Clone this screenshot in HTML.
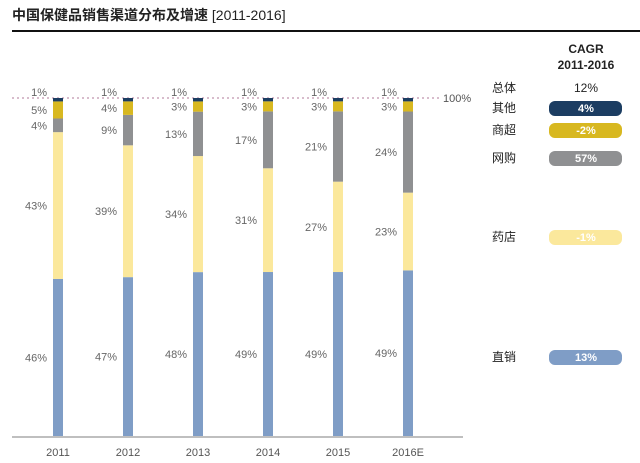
<!DOCTYPE html>
<html><head><meta charset="utf-8"><style>
body{margin:0;background:#fff;}
svg{display:block;font-family:"Liberation Sans","Noto Sans CJK SC",sans-serif;}
</style></head><body>
<svg id="chart" width="640" height="463" viewBox="0 0 640 463">
<text x="12" y="20" font-size="14" font-weight="bold" fill="#222">中国保健品销售渠道分布及增速 <tspan font-weight="normal">[2011-2016]</tspan></text>
<rect x="12" y="30" width="628" height="2" fill="#111"/>
<line x1="12" y1="98" x2="440" y2="98" stroke="#b07a9a" stroke-width="1" stroke-dasharray="2,3"/>
<text x="443" y="102" font-size="11" fill="#555">100%</text>
<line x1="12" y1="437" x2="463" y2="437" stroke="#999" stroke-width="1.2"/>
<g id="bars"></g>
<g id="legend">
<text x="586" y="53" font-size="12" font-weight="bold" text-anchor="middle" fill="#222">CAGR</text>
<text x="586" y="69" font-size="12" font-weight="bold" text-anchor="middle" fill="#222">2011-2016</text>
</g>
</svg>
<script>
const years = ["2011","2012","2013","2014","2015","2016E"];
const zhixiao = [46,47,48,49,49,49];
const yaodian = [43,39,34,31,27,23];
const wanggou = [4,9,13,17,21,24];
const shangchao = [5,4,3,3,3,3];
const qita = [1,1,1,1,1,1];
const seriesNames = ["直销","药店","网购","商超","其他"];
const cagrValues = ["13%","-1%","57%","-2%","4%"];
const totalCagr = "12%";

const NS="http://www.w3.org/2000/svg";
const colors=["#7f9dc6","#fbe89c","#8f9092","#d8b820","#1c3d62"];
const series=[zhixiao,yaodian,wanggou,shangchao,qita];
const yTop=98,yBottom=436,x0=58,step=70,bw=10;
function xPos(i){return x0+i*step;}
function yScale(p){return (yBottom-yTop)*p/100;}
function mk(tag,attrs,parent){const e=document.createElementNS(NS,tag);for(const k in attrs)e.setAttribute(k,attrs[k]);parent.appendChild(e);return e;}
const g=document.getElementById('bars');
years.forEach((yr,i)=>{
  const sum=series.reduce((s,a)=>s+a[i],0);
  let y=yBottom;
  series.forEach((arr,k)=>{
    const h=yScale(arr[i]*100/sum);
    const r=mk('rect',{x:xPos(i)-bw/2,y:y-h,width:bw,height:h,fill:colors[k]},g);
    
    
    let ly=y-h/2+4;
    if(k===4) ly=yTop-2;
    const t=mk('text',{x:xPos(i)-11,y:ly,'font-size':11,'text-anchor':'end',fill:'#666'},g);
    
    
    t.textContent=arr[i]+'%';
    y-=h;
  });
  const xl=mk('text',{x:xPos(i),y:456,'font-size':11,'text-anchor':'middle',fill:'#555'},g);
  
  
  xl.textContent=yr;
});
const lg=document.getElementById('legend');
const tl=mk('text',{x:492,y:92,'font-size':12,fill:'#222'},lg);


tl.textContent='总体';
const tv=mk('text',{x:586,y:92,'font-size':12,'text-anchor':'middle',fill:'#222'},lg);


tv.textContent=totalCagr;
const legY=[357,237,158,130,108];
seriesNames.forEach((n,k)=>{
  const yy=legY[k];
  const lt=mk('text',{x:492,y:yy+4,'font-size':12,fill:'#222'},lg);
  
  
  lt.textContent=n;
  const p=mk('rect',{x:549,y:yy-7,width:73,height:15,rx:6,fill:colors[k]},lg);
  
  
  const pv=mk('text',{x:586,y:yy+4,'font-size':11,'font-weight':'bold','text-anchor':'middle',fill:'#fff'},lg);
  
  
  pv.textContent=cagrValues[k];
});
</script>
</body></html>
